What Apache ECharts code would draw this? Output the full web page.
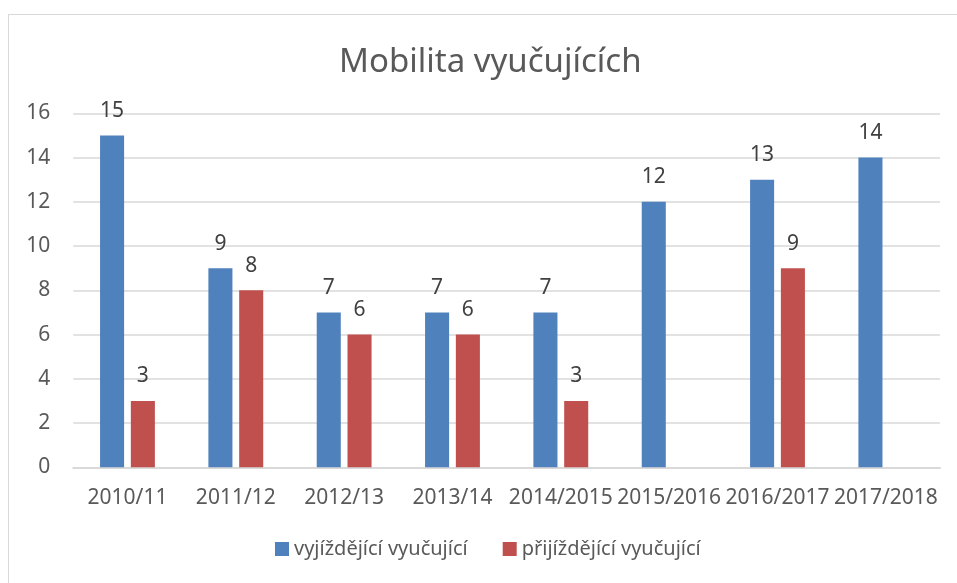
<!DOCTYPE html>
<html><head><meta charset="utf-8">
<script src="https://cdn.jsdelivr.net/npm/echarts@6/dist/echarts.min.js"></script>
<style>
html,body{margin:0;padding:0;background:#fff;overflow:hidden;}
#frame{position:absolute;left:8px;top:14px;width:1000px;height:700px;border:1px solid #d9d9d9;box-sizing:border-box;}
#c{position:absolute;left:0;top:0;width:957px;height:583px;}
</style></head>
<body>
<div id="frame"></div>
<div id="c"></div>
<script>
const titleText = 'Mobilita vyučujících';
const categories = ['2010/11','2011/12','2012/13','2013/14','2014/2015','2015/2016','2016/2017','2017/2018'];
const seriesNames = ['vyjíždějící vyučující','přijíždějící vyučující'];
const outgoing = [15, 9, 7, 7, 7, 12, 13, 14];
const incoming = [3, 8, 6, 6, 3, null, 9, null];

const FONT = 'Noto Sans';
const chart = echarts.init(document.getElementById('c'), null, {renderer:'canvas'});
const lbl = {show:true, position:'top', distance:14, color:'#404040', fontFamily:FONT, fontSize:21};
chart.setOption({
  animation:false,
  color:['#4f81bd','#c0504d'],
  title:{text:titleText, left:334, top:41, textStyle:{fontFamily:FONT, fontSize:33, fontWeight:'normal', color:'#595959'}},
  grid:{left:73.3, right:17, top:113.3, bottom:115.7, containLabel:false},
  legend:{bottom:19, left:270, itemWidth:14, itemHeight:14, itemGap:35, icon:'rect',
    textStyle:{fontFamily:FONT, fontSize:20, color:'#595959'}, data:seriesNames},
  xAxis:{type:'category', data:categories,
    axisLine:{lineStyle:{color:'#d9d9d9', width:2}}, axisTick:{show:false},
    axisLabel:{interval:0, margin:20, fontFamily:FONT, fontSize:21, color:'#595959'}},
  yAxis:{type:'value', min:0, max:16, interval:2,
    axisLine:{show:false}, axisTick:{show:false},
    splitLine:{lineStyle:{color:'#d9d9d9', width:1.5}},
    axisLabel:{margin:23, fontFamily:FONT, fontSize:21, color:'#595959'}},
  series:[
    {name:seriesNames[0], type:'bar', data:outgoing, barWidth:'22.2%', barGap:'28%', label:lbl},
    {name:seriesNames[1], type:'bar', data:incoming, barWidth:'22.2%', barGap:'28%', label:lbl}
  ]
});
</script>
</body></html>
